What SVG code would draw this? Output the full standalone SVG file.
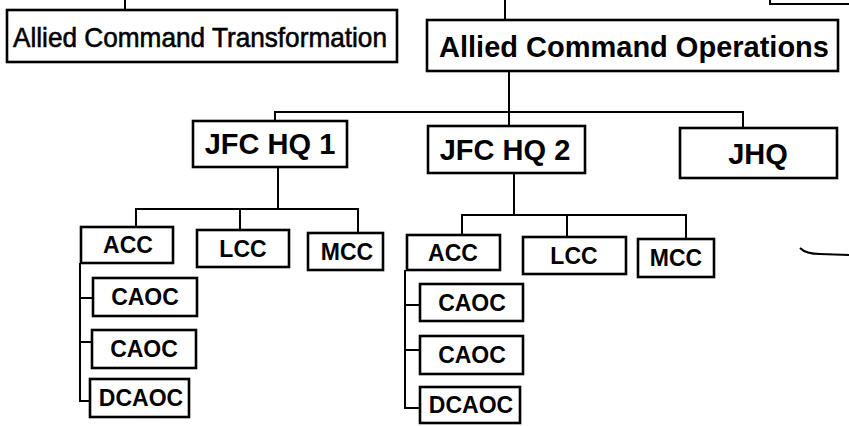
<svg xmlns="http://www.w3.org/2000/svg" width="849" height="426" viewBox="0 0 849 426">
<style>
.box{fill:#fff;stroke:#000;stroke-width:2.6}
.ln{fill:none;stroke:#000;stroke-width:2}
text{font-family:"Liberation Sans",Arial,sans-serif;fill:#000;text-anchor:middle}
.t1{font-size:28px;stroke:#000;stroke-width:0.6}
.t2{font-size:29px;font-weight:bold}
.t3{font-size:23px;font-weight:bold}
</style>
<rect width="849" height="426" fill="#fff"/>
<g id="connectors">
<line class="ln" x1="125" y1="0" x2="125" y2="10"/>
<line class="ln" x1="505" y1="0" x2="505" y2="20"/>
<path class="ln" d="M770,0 V4 H849" stroke-width="2.5"/>
<line class="ln" x1="509" y1="71" x2="509" y2="126"/>
<path class="ln" d="M275,121 V112 H743 V128"/>
<path class="ln" d="M278,167 V209"/>
<path class="ln" d="M136,227 V209 H358 V233"/>
<path class="ln" d="M240,209 V230"/>
<path class="ln" d="M80,263 V401 H90"/>
<path class="ln" d="M80,298 H93"/>
<path class="ln" d="M80,342 H92"/>
<path class="ln" d="M514,173 V215"/>
<path class="ln" d="M462,235 V215 H686 V239"/>
<path class="ln" d="M567,215 V237"/>
<path class="ln" d="M405,270 V408 H420"/>
<path class="ln" d="M405,305 H420"/>
<path class="ln" d="M405,350 H420"/>
<path class="ln" d="M800,248 Q806,254 820,254 L849,255"/>
</g>
<g id="act"><rect class="box" x="7" y="10" width="390" height="52"/><text class="t1" x="200" y="47" textLength="374" lengthAdjust="spacingAndGlyphs">Allied Command Transformation</text></g>
<g id="aco"><rect class="box" x="427" y="20" width="411" height="51"/><text class="t2" x="634" y="57">Allied Command Operations</text></g>
<g id="jfc1"><rect class="box" x="193" y="121" width="154" height="46"/><text class="t2" x="270" y="154">JFC HQ 1</text></g>
<g id="jfc2"><rect class="box" x="428" y="126" width="157" height="47"/><text class="t2" x="505" y="160">JFC HQ 2</text></g>
<g id="jhq"><rect class="box" x="680" y="128" width="157" height="50"/><text class="t2" x="758" y="164">JHQ</text></g>
<g id="acc1"><rect class="box" x="81" y="227" width="92" height="36"/><text class="t3" x="128" y="253">ACC</text></g>
<g id="lcc1"><rect class="box" x="197" y="230" width="92" height="37"/><text class="t3" x="243" y="257">LCC</text></g>
<g id="mcc1"><rect class="box" x="308" y="233" width="75" height="37"/><text class="t3" x="347" y="260">MCC</text></g>
<g id="caoc1a"><rect class="box" x="93" y="278" width="104" height="38"/><text class="t3" x="145" y="305">CAOC</text></g>
<g id="caoc1b"><rect class="box" x="92" y="330" width="104" height="38"/><text class="t3" x="144" y="357">CAOC</text></g>
<g id="dcaoc1"><rect class="box" x="90" y="379" width="99" height="38"/><text class="t3" x="141" y="406">DCAOC</text></g>
<g id="acc2"><rect class="box" x="407" y="235" width="93" height="35"/><text class="t3" x="453" y="261">ACC</text></g>
<g id="lcc2"><rect class="box" x="523" y="237" width="103" height="37"/><text class="t3" x="574" y="264">LCC</text></g>
<g id="mcc2"><rect class="box" x="638" y="239" width="76" height="38"/><text class="t3" x="676" y="266">MCC</text></g>
<g id="caoc2a"><rect class="box" x="420" y="284" width="103" height="37"/><text class="t3" x="472" y="311">CAOC</text></g>
<g id="caoc2b"><rect class="box" x="420" y="336" width="103" height="38"/><text class="t3" x="472" y="363">CAOC</text></g>
<g id="dcaoc2"><rect class="box" x="420" y="387" width="100" height="36"/><text class="t3" x="471" y="413">DCAOC</text></g>
</svg>
